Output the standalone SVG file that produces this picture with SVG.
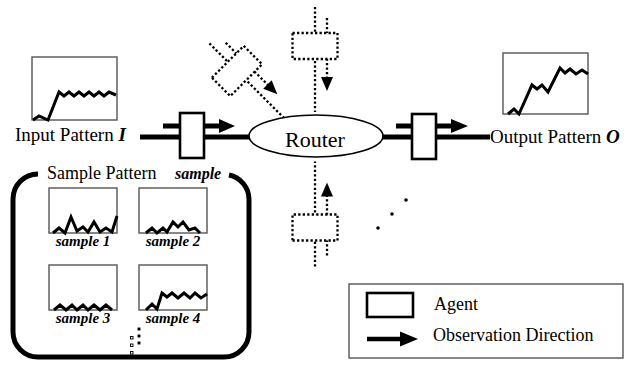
<svg xmlns="http://www.w3.org/2000/svg" xmlns:xlink="http://www.w3.org/1999/xlink" width="627" height="369" viewBox="0 0 627 369">
<style>
.t{font-family:"Liberation Serif","Times New Roman",serif;fill:#000}
.bi{font-weight:bold;font-style:italic}
.gbox{fill:#fff;stroke:#555;stroke-width:1.4}
.sig{fill:none;stroke:#000;stroke-width:3;stroke-linejoin:miter}
.thick{stroke:#000;stroke-width:5;fill:none}
.dot{stroke:#000;stroke-width:2.3;stroke-dasharray:2.3 2.2;fill:none}
.dbox{stroke:#000;stroke-width:2.3;stroke-dasharray:2.3 2.2;fill:#fff}
.agent{fill:#fff;stroke:#000;stroke-width:2.6}
</style>
<defs>
<g id="dagent">
<line class="dot" x1="0" y1="-39" x2="0" y2="66"/>
<line class="dot" x1="12" y1="-28" x2="12" y2="32"/>
<polygon points="6,31 18,31 12,45" fill="#000"/>
<rect class="dbox" x="-22.5" y="-13" width="45" height="26"/>
</g>
</defs>

<g id="connectors">
<line class="thick" x1="140" y1="137" x2="250" y2="137"/>
<line class="thick" x1="382" y1="137" x2="490" y2="137"/>
</g>

<g id="input-pattern">
<rect class="gbox" x="32" y="57" width="85" height="63"/>
<polyline class="sig" points="33,120 39,116 48,120 59,92 64,96 69,92 74,96 79,92 84,96 89,92 94,96 99,92 104,96 109,92 116,95"/>
<text class="t" x="15" y="141" font-size="19">Input Pattern <tspan class="bi">I</tspan></text>
</g>

<g id="input-agent">
<line x1="163" y1="126" x2="222" y2="126" stroke="#000" stroke-width="5"/>
<polygon points="219,119 219,133 235,126" fill="#000"/>
<rect class="agent" x="180" y="113" width="24" height="45"/>
</g>

<g id="router">
<ellipse cx="316" cy="136" rx="67" ry="21" fill="#fff" stroke="#000" stroke-width="1.6"/>
<text class="t" x="315" y="147" font-size="22" text-anchor="middle">Router</text>
</g>

<g id="output-agent">
<line x1="396" y1="126" x2="454" y2="126" stroke="#000" stroke-width="5"/>
<polygon points="451,119 451,133 468,126" fill="#000"/>
<rect class="agent" x="412" y="114" width="24" height="45"/>
</g>

<g id="output-pattern">
<rect class="gbox" x="503" y="53" width="85" height="61"/>
<polyline class="sig" points="508,114 514,109 519,114 532,85 537,89 542,85 548,92 560,68 565,73 570,69 576,74 582,70 588,74"/>
<text class="t" x="490" y="143" font-size="19">Output Pattern <tspan class="bi">O</tspan></text>
</g>

<g id="top-agent"><use xlink:href="#dagent" href="#dagent" transform="translate(315,46)"/></g>
<g id="diag-agent"><use xlink:href="#dagent" href="#dagent" transform="translate(237,71) rotate(-45)"/></g>
<g id="bottom-agent"><use xlink:href="#dagent" href="#dagent" transform="translate(315,227.5) scale(1,-1)"/></g>

<g id="ellipsis-dots">
<circle cx="378" cy="228" r="1.8"/>
<circle cx="392" cy="214" r="1.8"/>
<circle cx="406" cy="200" r="1.8"/>
</g>

<g id="sample-pattern">
<path d="M38,174 A25,25 0 0 0 13,199 V332 A25,25 0 0 0 38,357 H224 A25,25 0 0 0 249,332 V199 A25,25 0 0 0 229,175" fill="none" stroke="#000" stroke-width="5"/>
<text class="t" x="47" y="179" font-size="18">Sample Pattern</text>
<text class="t bi" x="175" y="179" font-size="16">sample</text>
<g id="sample1">
<rect class="gbox" x="49" y="188" width="68" height="45"/>
<polyline class="sig" points="53,233 59,228 65,233 71,217 77,231 83,227 88,232 94,222 100,232 106,228 112,232 117,216"/>
<text class="t bi" x="83" y="246" font-size="15" text-anchor="middle">sample 1</text>
</g>
<g id="sample2">
<rect class="gbox" x="139" y="188" width="68" height="45"/>
<polyline class="sig" points="146,233 152,228 157,233 163,228 167,232 173,222 178,227 183,222 189,230 195,228 200,233"/>
<text class="t bi" x="173" y="246" font-size="15" text-anchor="middle">sample 2</text>
</g>
<g id="sample3">
<rect class="gbox" x="49" y="265" width="68" height="45"/>
<polyline class="sig" points="54,310 60,305 66,310 72,305 77,310 83,305 88,310 94,305 100,310 106,305 112,310"/>
<text class="t bi" x="83" y="323" font-size="15" text-anchor="middle">sample 3</text>
</g>
<g id="sample4">
<rect class="gbox" x="139" y="265" width="68" height="45"/>
<polyline class="sig" points="146,310 152,304 157,309 162,293 167,297 172,293 178,298 184,293 190,298 195,293 201,298 207,294"/>
<text class="t bi" x="173" y="323" font-size="15" text-anchor="middle">sample 4</text>
</g>
<g id="sample-more" fill="none" stroke="#000" stroke-width="0.9">
<rect x="130.5" y="336.5" width="2.5" height="2.5"/>
<rect x="130.5" y="344" width="2.5" height="2.5"/>
<rect x="130.5" y="351.5" width="2.5" height="2.5"/>
<rect x="138" y="328" width="2" height="2" fill="#000"/>
<rect x="138" y="335" width="2" height="2" fill="#000"/>
<rect x="138" y="342" width="2" height="2" fill="#000"/>
</g>
</g>

<g id="legend">
<rect x="349" y="284" width="274" height="74" fill="#fff" stroke="#555" stroke-width="1.4"/>
<rect x="367" y="293" width="46" height="24" fill="#fff" stroke="#000" stroke-width="2.6"/>
<line x1="367" y1="339" x2="402" y2="339" stroke="#000" stroke-width="4.5"/>
<polygon points="400,331.5 400,346.5 418,339" fill="#000"/>
<text class="t" x="434" y="310" font-size="18">Agent</text>
<text class="t" x="433" y="341" font-size="18">Observation Direction</text>
</g>
</svg>
